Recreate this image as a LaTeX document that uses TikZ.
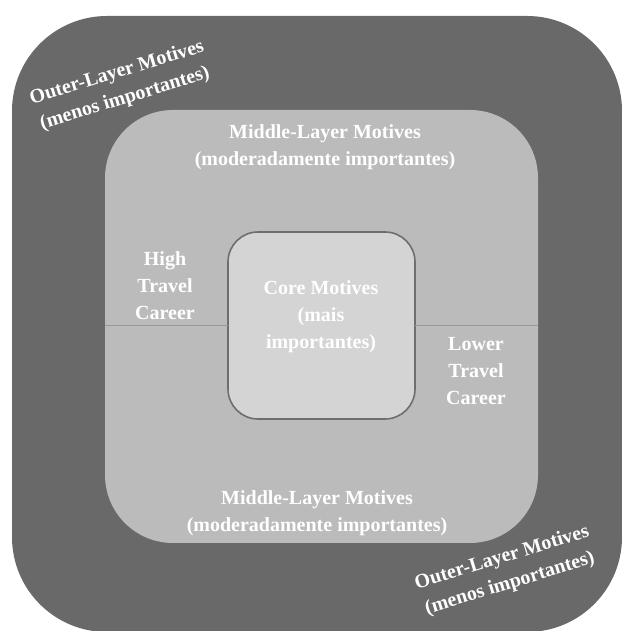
\documentclass[tikz,border=0pt]{standalone}
\usepackage{fontspec}
\setmainfont{Liberation Serif}
\usepackage{tikz}
\usepackage{xcolor}

\definecolor{outergray}{HTML}{696969}
\definecolor{middlegray}{HTML}{BBBBBB}
\definecolor{coregray}{HTML}{D4D4D4}
\definecolor{coreedge}{HTML}{6E6E6E}
\definecolor{splitgray}{HTML}{9A9A9A}

\tikzset{
  layer/.style={rounded corners=#1, inner sep=0pt, outer sep=0pt},
  label/.style={text=white, align=center, inner sep=0pt,
    font=\bfseries\fontsize{20}{27}\selectfont}
}

\begin{document}
\begin{tikzpicture}[x=1pt,y=1pt]
        \fill[white] (0,0) rectangle (621,631);
        \useasboundingbox (0,0) rectangle (621,631);
        % the three layers
        \node[layer=95pt, fill=outergray, minimum width=610pt, minimum height=616pt] (outer) at (317,307) {};
        \node[layer=68pt, fill=middlegray, minimum width=433pt, minimum height=433pt] (mid) at (321.5,304.5) {};
        \node[layer=30pt, fill=coregray, draw=coreedge, line width=1.6pt, minimum width=187pt, minimum height=187pt] (core) at (321.5,305.5) {};
        % split between high and lower travel career
        \draw[splitgray, line width=1.5pt] (mid.west |- core.west) -- (core.west);
        \draw[splitgray, line width=1.5pt] (core.east) -- (mid.east |- core.east);
        % texts
        \node[label] (midtop) at (325,484) {Middle-Layer Motives\\(moderadamente importantes)};
        \node[label] (midbot) at (317,118) {Middle-Layer Motives\\(moderadamente importantes)};
        \node[label] (hightc) at (165,345) {High\\Travel\\Career};
        \node[label] (lowtc) at (476,260) {Lower\\Travel\\Career};
        \node[label] (coretxt) at (321,314) {Core Motives\\(mais\\importantes)};
        \node[label, rotate=17] (outtop) at (121,545) {Outer-Layer Motives\\(menos importantes)};
        \node[label, rotate=17] (outbot) at (506,60) {Outer-Layer Motives\\(menos importantes)};
      \end{tikzpicture}
\end{document}
